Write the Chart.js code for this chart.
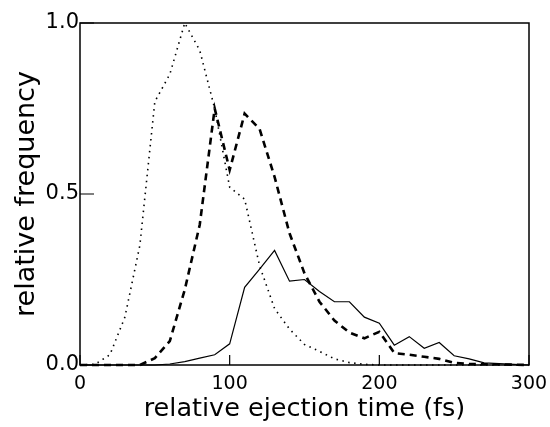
<!DOCTYPE html>
<html>
<head>
<meta charset="utf-8">
<script src="https://cdn.jsdelivr.net/npm/chart.js@4/dist/chart.umd.min.js"></script>
<style>
  body { margin: 0; background: #fff; }
  canvas { display: block; }
</style>
</head>
<body>
<canvas id="chart" width="550" height="427"></canvas>
<script>
const times = [0, 10, 20, 30, 40, 50, 60, 70, 80, 90, 100, 110, 120, 130, 140, 150,
  160, 170, 180, 190, 200, 210, 220, 230, 240, 250, 260, 270, 280, 290, 300];
const dottedFreq = [0, 0.002, 0.03, 0.14, 0.35, 0.77, 0.85, 1.0, 0.92, 0.75, 0.52, 0.485,
  0.29, 0.165, 0.105, 0.06, 0.04, 0.018, 0.007, 0.002, 0, 0, 0, 0, 0, 0, 0, 0, 0, 0, 0];
const dashedFreq = [0, 0, 0, 0, 0, 0.02, 0.07, 0.22, 0.41, 0.75, 0.57, 0.735, 0.69, 0.55,
  0.385, 0.268, 0.185, 0.13, 0.095, 0.078, 0.097, 0.035, 0.03, 0.024, 0.018, 0.006, 0.003,
  0.002, 0.002, 0.001, 0];
const solidFreq = [0, 0, 0, 0, 0, 0, 0.003, 0.01, 0.02, 0.03, 0.062, 0.227, 0.28, 0.335,
  0.245, 0.25, 0.215, 0.185, 0.185, 0.14, 0.122, 0.058, 0.083, 0.049, 0.066, 0.027, 0.018,
  0.006, 0.004, 0.002, 0];
const xTicks = [0, 100, 200, 300];
const yTicks = [0, 0.5, 1.0];

Chart.defaults.font.family = "DejaVu Sans";
Chart.defaults.color = "#000";

const toPoints = (ys) => ys.map((y, i) => ({ x: times[i], y: y }));

// box round the plot + short inward ticks
const frame = {
  id: "frame",
  afterDatasetsDraw(chart) {
    const { ctx, chartArea: a, scales } = chart;
    ctx.save();
    ctx.strokeStyle = "#000";
    ctx.lineWidth = 1.5;
    ctx.strokeRect(a.left, a.top, a.right - a.left, a.bottom - a.top);
    ctx.lineWidth = 1.2;
    ctx.beginPath();
    scales.x.ticks.forEach((t) => {
      const px = scales.x.getPixelForValue(t.value);
      ctx.moveTo(px, a.bottom);
      ctx.lineTo(px, a.bottom - 10);
    });
    scales.y.ticks.forEach((t) => {
      const py = scales.y.getPixelForValue(t.value);
      ctx.moveTo(a.left, py);
      ctx.lineTo(a.left + 14, py);
    });
    ctx.stroke();
    ctx.restore();
  },
};

new Chart(document.getElementById("chart"), {
  type: "line",
  data: {
    datasets: [
      {
        data: toPoints(dottedFreq),
        borderColor: "#000",
        borderWidth: 1.6,
        borderDash: [1.5, 4.5],
      },
      {
        data: toPoints(dashedFreq),
        borderColor: "#000",
        borderWidth: 2.6,
        borderDash: [7, 5],
      },
      {
        data: toPoints(solidFreq),
        borderColor: "#000",
        borderWidth: 1.2,
      },
    ],
  },
  options: {
    responsive: false,
    animation: false,
    clip: false,
    elements: { point: { radius: 0 }, line: { tension: 0 } },
    layout: { padding: { top: 23, right: 21, left: 11, bottom: 0 } },
    plugins: { legend: { display: false }, tooltip: { enabled: false } },
    scales: {
      x: {
        type: "linear",
        min: 0,
        max: 300,
        afterBuildTicks: (s) => { s.ticks = xTicks.map((v) => ({ value: v })); },
        afterFit: (s) => {
          s.height = 62;
          s.paddingLeft = 0;
          s.paddingRight = 0;
        },
        grid: { display: false, drawTicks: false },
        border: { display: false },
        ticks: { padding: 8, font: { size: 19 } },
        title: {
          display: true,
          text: "relative ejection time (fs)",
          font: { size: 25.5 },
          padding: { top: 0, bottom: 2 },
        },
      },
      y: {
        min: 0,
        max: 1,
        afterBuildTicks: (s) => { s.ticks = yTicks.map((v) => ({ value: v })); },
        afterFit: (s) => {
          s.width = 69;
          s.paddingTop = 0;
          s.paddingBottom = 0;
        },
        grid: { display: false, drawTicks: false },
        border: { display: false },
        ticks: { padding: 1, font: { size: 21 }, callback: (v) => v.toFixed(1) },
        title: {
          display: true,
          text: "relative frequency",
          font: { size: 27 },
          padding: { top: 0, bottom: 0 },
        },
      },
    },
  },
  plugins: [frame],
});
</script>
</body>
</html>
